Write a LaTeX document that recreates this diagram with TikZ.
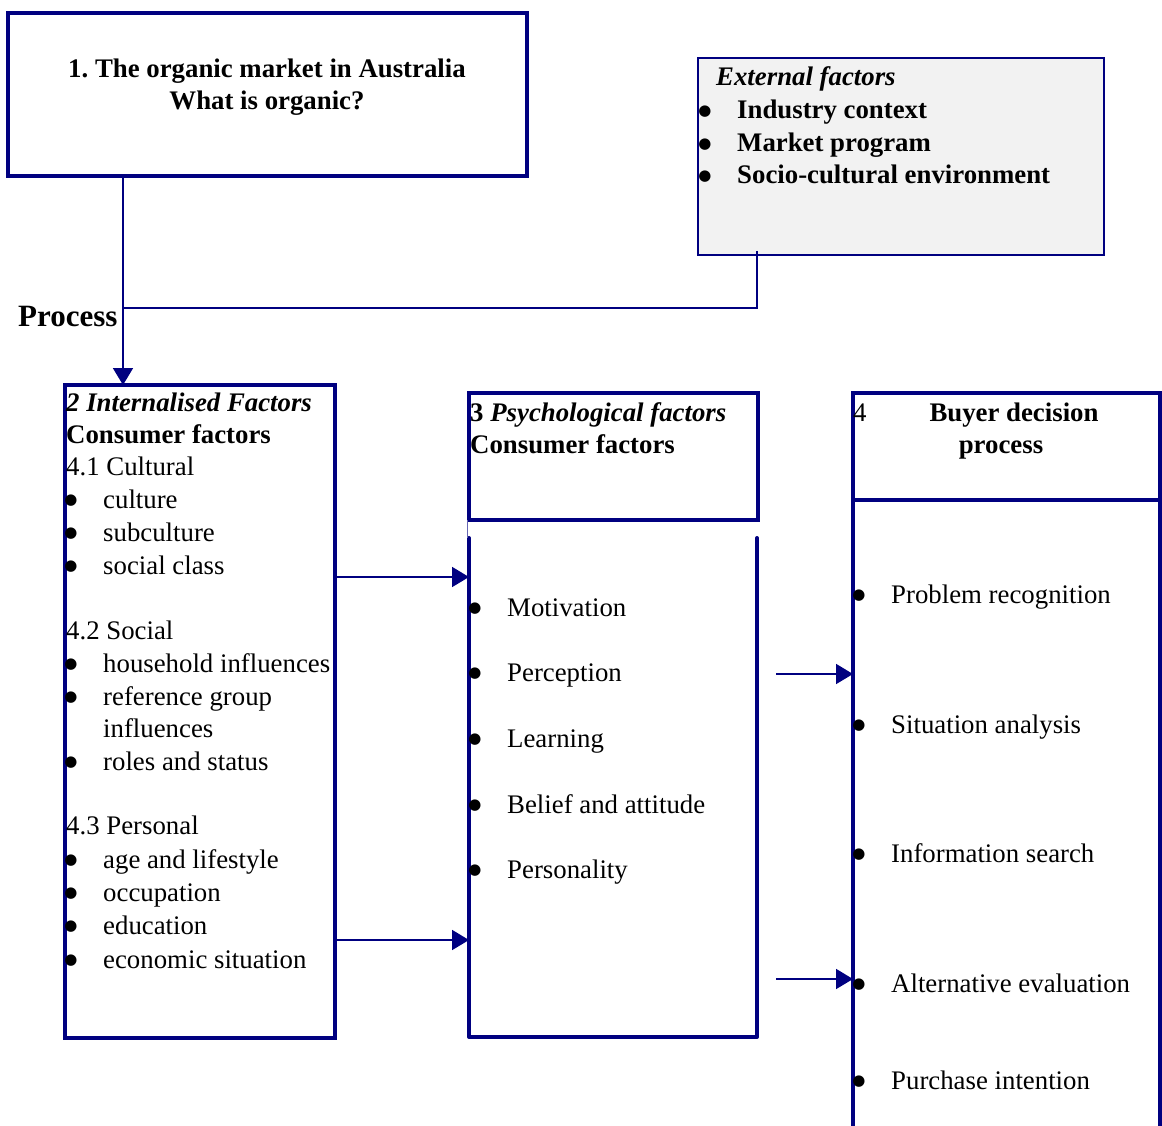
\documentclass[tikz,border=0pt]{standalone}
\usepackage{fontspec}
\setmainfont{Liberation Serif}
\newfontfamily\dotfont{DejaVu Sans}
\usetikzlibrary{arrows.meta}
\definecolor{navyline}{RGB}{0,0,128}
\definecolor{extfill}{RGB}{242,242,242}
\frenchspacing
\begin{document}
\begin{tikzpicture}[x=1pt,y=-1pt,
  frame/.style={draw=navyline, line width=4pt, inner sep=0pt, outer sep=0pt, anchor=north west},
  plainbox/.style={inner sep=0pt, outer sep=0pt, anchor=north west},
  extbox/.style={draw=navyline, line width=1.8pt, fill=extfill, inner sep=0pt, outer sep=0pt, anchor=north west},
  conn/.style={draw=navyline, line width=1.8pt},
  arr/.style={conn, -{Triangle[length=17pt,width=20pt]}},
  txt/.style={anchor=base west, inner sep=0pt, font=\fontsize{26.8}{33}\selectfont},
  ctxt/.style={txt, anchor=base},
  bul/.style={anchor=base, inner sep=0pt, font=\dotfont\fontsize{15}{15}\selectfont}
]
\useasboundingbox (0,0) rectangle (1162,1126);

% ---- boxes ----
\node[frame, minimum width=519pt, minimum height=163pt] (b1) at (8,13) {};
\node[extbox, minimum width=406pt, minimum height=197pt] (ext) at (698,58) {};
\node[frame, minimum width=270pt, minimum height=653pt] (b2) at (65,385) {};
\node[frame, minimum width=289pt, minimum height=127pt] (b3t) at (469,393) {};
\node[plainbox, minimum width=288pt, minimum height=499pt] (b3b) at (469,538) {};
\draw[navyline, line width=4pt, line cap=round, line join=round]
  (b3b.north west) -- (b3b.south west) -- (b3b.south east) -- (b3b.north east);
\draw[navyline!60, line width=0.8pt] (b3t.south west) ++(-2,0) -- ([xshift=-2pt]b3b.north west);
\node[frame, minimum width=307pt, minimum height=107pt] (b4t) at (853,393) {};
\node[frame, minimum width=307pt, minimum height=650pt] (b4b) at (853,500) {};

% ---- connectors ----
\coordinate (j) at (123,308);
\coordinate (ex) at (757,251);
\draw[arr] (b1.south -| j) -- (b2.north -| j);
\draw[conn] (ex) |- (j);
\coordinate (a1) at (335,577);
\coordinate (a2) at (335,940);
\coordinate (a3) at (776,674);
\coordinate (a4) at (776,979);
\draw[arr] (a1) -- (a1 -| b3b.west);
\draw[arr] (a2) -- (a2 -| b3b.west);
\draw[arr] (a3) -- (a3 -| b4b.west);
\draw[arr] (a4) -- (a4 -| b4b.west);

% ---- heading box ----
\node[ctxt, font=\fontsize{26.8}{33}\selectfont\bfseries] (h1) at (267,78) {1. The organic market in Australia};
\node[ctxt, font=\fontsize{26.8}{33}\selectfont\bfseries] (h2) at (267,110) {What is organic?};

% ---- external factors ----
\node[txt, font=\fontsize{26.8}{33}\selectfont\bfseries\itshape] (e0) at (716,86) {External factors};
\foreach \yy/\tt [count=\i] in {119/Industry context, 152/Market program, 184/Socio-cultural environment}{
  \node[bul] (eb\i) at (705,\yy-3) {●};
  \node[txt, font=\fontsize{26.8}{33}\selectfont\bfseries] (et\i) at (737,\yy) {\tt};
}

\node[txt, font=\fontsize{31}{36}\selectfont\bfseries] (proc) at (18,326) {Process};

% ---- internalised factors ----
\node[txt, font=\fontsize{26.8}{33}\selectfont\bfseries\itshape] (i0) at (66,411) {2 Internalised Factors};
\node[txt, font=\fontsize{26.8}{33}\selectfont\bfseries] (i1) at (66,443) {Consumer factors};
\node[txt] (g1) at (66,475) {4.1 Cultural};
\node[txt] (g2) at (66,639) {4.2 Social};
\node[txt] (g3) at (66,834) {4.3 Personal};
\foreach \yy/\tt [count=\i] in {508/culture, 541/subculture, 574/social class,
    672/household influences, 705/reference group, 770/roles and status,
    868/age and lifestyle, 901/occupation, 934/education, 968/economic situation}{
  \node[bul] (ib\i) at (71,\yy-4) {●};
  \node[txt] (it\i) at (103,\yy) {\tt};
}
\node[txt] (itx) at (103,737) {influences};

% ---- psychological factors ----
\node[txt, font=\fontsize{26.8}{33}\selectfont\bfseries] (p0) at (470,421) {3 \itshape Psychological factors};
\node[txt, font=\fontsize{26.8}{33}\selectfont\bfseries] (p1) at (470,453) {Consumer factors};
\foreach \yy/\tt [count=\i] in {616/Motivation, 681/Perception, 747/Learning, 813/Belief and attitude, 878/Personality}{
  \node[bul] (pb\i) at (475,\yy-4) {●};
  \node[txt] (pt\i) at (507,\yy) {\tt};
}

% ---- buyer decision process ----
\node[txt] (q0) at (853,421) {4};
\node[ctxt, font=\fontsize{26.8}{33}\selectfont\bfseries] (q1) at (1014,421) {Buyer decision};
\node[ctxt, font=\fontsize{26.8}{33}\selectfont\bfseries] (q2) at (1001,453) {process};
\foreach \yy/\tt [count=\i] in {603/Problem recognition, 733/Situation analysis, 862/Information search, 992/Alternative evaluation, 1089/Purchase intention}{
  \node[bul] (qb\i) at (859,\yy-4) {●};
  \node[txt] (qt\i) at (891,\yy) {\tt};
}
\end{tikzpicture}
\end{document}
